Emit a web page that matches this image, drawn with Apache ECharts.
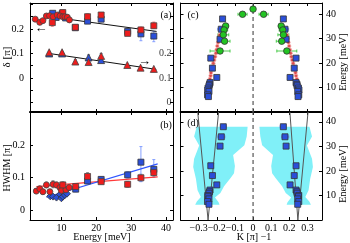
<!DOCTYPE html>
<html><head><meta charset="utf-8">
<script src="https://cdn.jsdelivr.net/npm/echarts@6/dist/echarts.min.js"></script>
<style>html,body{margin:0;padding:0;background:#fff}#c{width:350px;height:243px}</style>
</head><body><div id="c"></div>
<script>
// ---------- Panel (a): delta vs Energy ----------
const aRedCircles = [[2.5,0.240],[3.8,0.227],[4.7,0.234],[5.7,0.253],[6.6,0.254],[7.6,0.250],[8.8,0.257],[9.6,0.253],[10.4,0.250],[11.0,0.250],[11.7,0.248],[12.3,0.237]];
const aRedSquares = [[7.4,0.226],[10.4,0.267],[14.0,0.207],[17.5,0.250],[21.4,0.257],[29.0,0.182],[32.8,0.196],[36.5,0.213]];
const aBlueSquares = [[7.5,0.264],[8.5,0.247],[10.2,0.262],[11.2,0.245],[14.0,0.205],[17.5,0.232],[21.4,0.240],[29.0,0.190],[32.8,0.180],[36.5,0.171]];
const aRedTriangles = [[6.5,0.205],[10.2,0.205],[14.0,0.167],[17.8,0.165],[21.4,0.190],[28.9,0.153],[32.7,0.142],[36.5,0.137]];
const aBlueTriangles = [[6.5,0.200],[10.2,0.200],[17.8,0.184],[21.4,0.173]];
const aFitUpper = [[11.8,0.240],[37.3,0.190]];
const aFitLower = [[6.0,0.201],[37.2,0.135]];
const aErrRed = [[7.4,0.211,0.241],[10.4,0.257,0.277],[14.0,0.199,0.215],[17.5,0.240,0.262],[21.4,0.247,0.267],[29.0,0.174,0.190],[32.8,0.184,0.208],[36.5,0.203,0.228]];
const aErrBlue = [[7.5,0.256,0.272],[14.0,0.197,0.213],[17.5,0.222,0.242],[21.4,0.230,0.250],[29.0,0.180,0.200],[32.8,0.152,0.204],[36.5,0.148,0.190]];
const aErrTri = [[14.0,0.159,0.175],[17.8,0.174,0.194],[21.4,0.178,0.200]];

// ---------- Panel (b): HWHM vs Energy ----------
const bRedCircles = [[2.8,0.058],[3.8,0.065],[4.7,0.056],[5.7,0.077],[6.7,0.056],[7.6,0.079],[8.6,0.077],[9.6,0.069],[10.0,0.060],[11.3,0.062],[12.2,0.069]];
const bRedSquares = [[10.4,0.077],[14.1,0.072],[17.5,0.103],[21.4,0.087],[29.0,0.079],[32.8,0.099],[36.5,0.115]];
const bBlueDiamonds = [[6.8,0.042],[7.6,0.041],[8.6,0.038],[9.6,0.048],[10.0,0.036],[10.4,0.041],[11.0,0.046],[11.6,0.050]];
const bBlueSquares = [[14.1,0.064],[17.5,0.089],[21.4,0.094],[29.0,0.108],[32.8,0.147],[36.5,0.125]];
const bFitRed = [[2.8,0.072],[37.6,0.102]];
const bFitBlue = [[5.7,0.039],[37.6,0.142]];
const bErrRed = [[2.8,0.050,0.066],[3.8,0.057,0.073],[4.7,0.048,0.064],[5.7,0.068,0.086],[6.7,0.048,0.064],[7.6,0.068,0.090],[8.6,0.068,0.086],[9.6,0.060,0.078],[10.4,0.067,0.087],[11.3,0.054,0.070],[12.2,0.060,0.078],[14.1,0.063,0.081],[17.5,0.093,0.115],[21.4,0.080,0.094],[29.0,0.070,0.088],[32.8,0.088,0.110],[36.5,0.104,0.126]];
const bErrBlue = [[14.1,0.056,0.072],[17.5,0.081,0.097],[21.4,0.086,0.102],[29.0,0.098,0.118],[32.8,0.087,0.195],[36.5,0.100,0.155]];

// ---------- Panel (c): dispersion (K-1, Energy) ----------
const cRedLeft = [[-0.243,5.8],[-0.252,7],[-0.255,8],[-0.255,9],[-0.252,10],[-0.248,11],[-0.243,12.2],[-0.238,13.5],[-0.234,14.8],[-0.232,16],[-0.229,17.3],[-0.224,18.6],[-0.219,19.9],[-0.214,21.2],[-0.209,22.6],[-0.205,24],[-0.201,25.4],[-0.197,26.9],[-0.193,28.4],[-0.189,29.9],[-0.185,31.4]];
const cRedRight = [[0.245,5.8],[0.255,7],[0.258,8],[0.257,9],[0.254,10],[0.250,11],[0.246,12.2],[0.241,13.5],[0.237,14.8],[0.234,16],[0.231,17.3],[0.226,18.6],[0.221,19.9],[0.216,21.2],[0.211,22.6],[0.207,24],[0.203,25.4],[0.199,26.9],[0.195,28.4],[0.191,29.9],[0.187,31.4]];
const cBlue = [[-0.168,38],[-0.175,33.8],[-0.182,29.7],[-0.233,22],[-0.224,17.9],[-0.200,14.1],[-0.237,12],[-0.240,11.3],[-0.243,10.7],[-0.248,9.8],[-0.250,9],[-0.243,8.4],[-0.251,7],[-0.246,6.3],
  [0.167,38],[0.176,33.8],[0.182,29.7],[0.237,22],[0.227,17.9],[0.204,14.1],[0.237,12],[0.242,11.3],[0.243,10.7],[0.250,9.8],[0.253,9],[0.246,8.4],[0.252,7],[0.248,6.3]];
const cGreen = [[0,42],[-0.058,39.9],[-0.151,35.1],[-0.160,33.5],[-0.164,31.5],[-0.157,28.9],[-0.182,24.9],[0.058,39.9],[0.155,35.1],[0.164,33.5],[0.167,31.5],[0.158,28.9],[0.186,24.9]];
const cErrGreen = [[42,-0.012,0.012],[39.9,-0.083,-0.033],[35.1,-0.166,-0.136],[33.5,-0.180,-0.140],[31.5,-0.194,-0.134],[28.9,-0.187,-0.127],[24.9,-0.237,-0.127],[39.9,0.033,0.083],[35.1,0.140,0.170],[33.5,0.144,0.184],[31.5,0.137,0.197],[28.9,0.128,0.188],[24.9,0.131,0.241]];
const cErrBlue = [[38,-0.180,-0.156],[33.8,-0.195,-0.155],[38,0.155,0.179],[33.8,0.156,0.196]];
const zeroLine = [[0,0],[0,44.5]];

// ---------- Panel (d) ----------
const dBlue = [[-0.164,38],[-0.175,33.9],[-0.182,30.1],[-0.233,22.1],[-0.224,18.1],[-0.200,14.3],[-0.237,12.2],[-0.240,11.5],[-0.243,10.9],[-0.250,10],[-0.248,9.5],[-0.243,8.6],[-0.251,7.5],[-0.243,6.4],
  [0.167,38],[0.176,33.9],[0.182,30.1],[0.237,22.1],[0.227,18.1],[0.204,14.3],[0.237,12.2],[0.242,11.5],[0.243,10.9],[0.252,10],[0.250,9.5],[0.246,8.6],[0.252,7.5],[0.246,6.4]];
const dErrBlue = [[38,-0.180,-0.148],[33.9,-0.195,-0.155],[38,0.149,0.181],[33.9,0.157,0.197]];
const dPolyLeft = [[-0.311,38],[-0.030,38],[-0.035,34],[-0.048,30.5],[-0.110,26.5],[-0.100,22],[-0.105,19],[-0.125,17],[-0.160,13.7],[-0.180,11],[-0.210,9.2],[-0.190,7.2],[-0.185,6.2],[-0.319,6.2],[-0.310,7.5],[-0.288,9.4],[-0.306,12.1],[-0.315,16.8],[-0.330,21.6],[-0.325,25],[-0.297,30.4],[-0.325,34]];
const dPolyRight = [[0.311,38],[0.035,38],[0.040,34],[0.050,30.5],[0.110,26.5],[0.100,22],[0.105,19],[0.125,17],[0.160,13.7],[0.180,11],[0.210,9.2],[0.190,7.2],[0.185,6.2],[0.319,6.2],[0.310,7.5],[0.288,9.4],[0.306,12.1],[0.315,16.8],[0.330,21.6],[0.325,25],[0.297,30.4],[0.325,34]];
const dLines = [
  [[-0.248,0],[-0.305,44]], [[-0.248,0],[-0.190,44]],
  [[0.247,0],[0.303,44]], [[0.247,0],[0.203,44]]
];

// ---------- ticks ----------
const eTicks = [10,20,30,40];
const kTicks = [-0.3,-0.2,-0.1,0,0.1,0.2,0.3];
const deltaTicks = [-0.1,-0.05,0,0.05,0.1,0.15,0.2,0.25,0.3];
const deltaLabels = [0,0.1,0.2];
const deltaRTicks = [0,0.05,0.1,0.15,0.2,0.25,0.3,0.35,0.4];
const deltaRLabels = [0,0.1,0.2];
const hwhmTicks = [0,0.1,0.2];
const energyTicks = [10,20,30,40];
const X_MAX_LEFT = 42;

const FONT = '"Liberation Serif","DejaVu Serif",serif';
const fmt = v => { const s = String(Math.round(Math.abs(v)*100)/100); return v < -1e-9 ? '\u2212' + s : s; };

function ax(gridIndex, position, min, max, ticks, labels, opt) {
  opt = opt || {};
  const lab = labels ? { show: true, customValues: labels, formatter: fmt, color: '#000', fontFamily: FONT, fontSize: 10,
      margin: opt.margin == null ? 4 : opt.margin } : { show: false };
  return {
    type: 'value', gridIndex, position, min, max,
    axisLine: { show: true, onZero: false, lineStyle: { color: '#000', width: opt.lw || 1 } },
    axisTick: { show: true, inside: true, length: 3, customValues: ticks, lineStyle: { color: '#000' } },
    axisLabel: lab,
    splitLine: { show: false }
  };
}

const xAxis = [
  ax(0,'bottom',1,X_MAX_LEFT,eTicks,null),
  ax(0,'top',1,X_MAX_LEFT,eTicks,null),
  ax(1,'bottom',1,X_MAX_LEFT,eTicks,eTicks,{margin:3}),
  ax(1,'top',1,X_MAX_LEFT,eTicks,null,{lw:2}),
  ax(2,'bottom',-0.4,0.38,kTicks,null),
  ax(2,'top',-0.4,0.38,kTicks,null),
  ax(3,'bottom',-0.4,0.38,kTicks,kTicks,{margin:3}),
  ax(3,'top',-0.4,0.38,kTicks,null,{lw:2})
];
const yAxis = [
  ax(0,'left',-0.139,0.306,deltaTicks,deltaLabels,{margin:6}),
  ax(0,'right',-0.039,0.406,deltaRTicks,null),
  ax(1,'left',-0.031,0.3015,hwhmTicks,hwhmTicks,{margin:5}),
  ax(1,'right',-0.031,0.3015,hwhmTicks,null),
  ax(2,'left',0,44.5,energyTicks,null),
  ax(2,'right',0,44.5,energyTicks,energyTicks,{margin:4}),
  ax(3,'left',0,44,energyTicks,null),
  ax(3,'right',0,44,energyTicks,energyTicks,{margin:4})
];

function vErr(xi, yi, data, color) {
  return { type: 'custom', xAxisIndex: xi, yAxisIndex: yi, data, silent: true, z: 2,
    dimensions: ['x','lo','hi'], encode: { x: 0, y: [1,2] },
    renderItem: (p, api) => {
      const a = api.coord([api.value(0), api.value(1)]), b = api.coord([api.value(0), api.value(2)]);
      const st = { stroke: color, lineWidth: 1 };
      return { type: 'group', children: [
        { type: 'line', shape: { x1: a[0], y1: a[1], x2: b[0], y2: b[1] }, style: st },
        { type: 'line', shape: { x1: a[0]-1.5, y1: a[1], x2: a[0]+1.5, y2: a[1] }, style: st },
        { type: 'line', shape: { x1: b[0]-1.5, y1: b[1], x2: b[0]+1.5, y2: b[1] }, style: st }
      ]};
    } };
}
function hErr(xi, yi, data, color) {
  return { type: 'custom', xAxisIndex: xi, yAxisIndex: yi, data, silent: true, z: 2,
    dimensions: ['y','lo','hi'], encode: { y: 0, x: [1,2] },
    renderItem: (p, api) => {
      const a = api.coord([api.value(1), api.value(0)]), b = api.coord([api.value(2), api.value(0)]);
      const st = { stroke: color, lineWidth: 1 };
      return { type: 'group', children: [
        { type: 'line', shape: { x1: a[0], y1: a[1], x2: b[0], y2: b[1] }, style: st },
        { type: 'line', shape: { x1: a[0], y1: a[1]-1.5, x2: a[0], y2: a[1]+1.5 }, style: st },
        { type: 'line', shape: { x1: b[0], y1: b[1]-1.5, x2: b[0], y2: b[1]+1.5 }, style: st }
      ]};
    } };
}
function poly(xi, yi, pts, color) {
  return { type: 'custom', xAxisIndex: xi, yAxisIndex: yi, data: pts, silent: true, z: 1,
    renderItem: (p, api) => {
      if (p.dataIndex !== 0) return null;
      return { type: 'polygon', shape: { points: pts.map(q => api.coord(q)) }, style: { fill: color } };
    } };
}
function sc(xi, yi, data, symbol, size, color, border, z) {
  return { type: 'scatter', xAxisIndex: xi, yAxisIndex: yi, data, symbol, symbolSize: size, silent: true, z: z || 5,
    itemStyle: { color, borderColor: border || '#333', borderWidth: 0.8, opacity: 1 } };
}
function ln(xi, yi, data, color, w, type, z) {
  return { type: 'line', xAxisIndex: xi, yAxisIndex: yi, data, symbol: 'none', silent: true, z: z || 4,
    lineStyle: { color, width: w || 1, type: type || 'solid' } };
}

const RED = '#ee1c1c', BLUE = '#2b4fd8', GREEN = '#22c422', CYAN = '#80f0f8';
const redDisp = { color: '#d42020', borderColor: 'rgba(245,170,170,0.85)', borderWidth: 1 };

const series = [
  // (a)
  vErr(0,0,aErrRed,'rgba(240,90,90,0.8)'),
  vErr(0,0,aErrBlue,'rgba(110,140,255,0.8)'),
  vErr(0,1,aErrTri,'rgba(110,110,140,0.8)'),
  ln(0,0,aFitUpper,'#111',1),
  ln(0,1,aFitLower,'#111',1),
  sc(0,0,aBlueSquares,'rect',6,BLUE),
  sc(0,0,aRedSquares,'rect',6,RED,'#444',6),
  sc(0,0,aRedCircles,'circle',6,RED,'#444',6),
  sc(0,1,aBlueTriangles,'triangle',7,BLUE),
  sc(0,1,aRedTriangles,'triangle',7,RED,'#444',6),
  // right-hand tick labels of (a), drawn inside the frame on the right axis scale
  { type: 'scatter', xAxisIndex: 0, yAxisIndex: 1, silent: true, z: 20, clip: false,
    data: deltaRLabels.map(v => [X_MAX_LEFT, v]), symbol: 'circle', symbolSize: 1,
    itemStyle: { color: 'rgba(0,0,0,0)' },
    label: { show: true, position: 'left', distance: 1, color: '#000', fontFamily: FONT, fontSize: 10,
      formatter: p => fmt(p.value[1]) } },
  // (b)
  vErr(2,2,bErrRed,'rgba(120,120,120,0.8)'),
  vErr(2,2,bErrBlue,'rgba(120,150,255,0.9)'),
  ln(2,2,bFitRed,'#ff3a3a',1.2),
  ln(2,2,bFitBlue,'#2f55ff',1.2),
  sc(2,2,bBlueDiamonds,'diamond',7,BLUE),
  sc(2,2,bBlueSquares,'rect',6,BLUE),
  sc(2,2,bRedCircles,'circle',6,RED,'#444',6),
  sc(2,2,bRedSquares,'rect',6,RED,'#444',6),
  // (c)
  ln(4,4,zeroLine,'#555',1.2,[4,3],3),
  { type: 'scatter', xAxisIndex: 4, yAxisIndex: 4, data: cRedLeft, symbol: 'circle', symbolSize: 3.5, silent: true, z: 4, itemStyle: redDisp },
  { type: 'scatter', xAxisIndex: 4, yAxisIndex: 4, data: cRedRight, symbol: 'circle', symbolSize: 3.5, silent: true, z: 4, itemStyle: redDisp },
  hErr(4,4,cErrBlue,'rgba(110,140,255,0.9)'),
  sc(4,4,cBlue,'rect',6,BLUE,'#333',5),
  hErr(4,4,cErrGreen,'rgba(60,200,60,0.9)'),
  sc(4,4,cGreen,'circle',6.5,GREEN,'#333',7),
  // (d)
  poly(6,6,dPolyLeft,CYAN),
  poly(6,6,dPolyRight,CYAN),
  ln(6,6,zeroLine,'#555',1.2,[4,3],3),
  ln(6,6,dLines[0],'#555',1),
  ln(6,6,dLines[1],'#555',1),
  ln(6,6,dLines[2],'#555',1),
  ln(6,6,dLines[3],'#555',1),
  hErr(6,6,dErrBlue,'rgba(110,140,255,0.9)'),
  sc(6,6,dBlue,'rect',6,BLUE,'#333',6)
];

function txt(x, y, text, rot, size, align) {
  return { type: 'text', x, y, rotation: rot || 0, silent: true, z: 100,
    style: { text, fill: '#000', font: (size || 10) + 'px ' + FONT, align: align || 'center', verticalAlign: 'middle' } };
}

const chart = echarts.init(document.getElementById('c'), null, { renderer: 'canvas' });
chart.setOption({
  animation: false,
  backgroundColor: '#fff',
  grid: [
    { left: 30, top: 3, width: 143, height: 109 },
    { left: 30, top: 112, width: 143, height: 108 },
    { left: 180.5, top: 3, width: 141.5, height: 109 },
    { left: 180.5, top: 112, width: 141.5, height: 108 }
  ],
  xAxis, yAxis, series,
  graphic: [
    txt(7, 57, '\u03b4 [\u03c0]', Math.PI/2, 11),
    txt(7, 168, 'HWHM [\u03c0]', Math.PI/2),
    txt(102, 237, 'Energy [meV]'),
    txt(254, 237, 'K [\u03c0] \u22121'),
    txt(343, 62, 'Energy [meV]', Math.PI/2),
    txt(343, 174, 'Energy [meV]', Math.PI/2),
    txt(166, 15, '(a)'),
    txt(166, 125, '(b)'),
    txt(193, 15, '(c)'),
    txt(193, 123, '(d)'),
    txt(41, 29, '\u2190', 0, 13),
    txt(144.5, 61.5, '\u2192', 0, 13)
  ]
});
</script></body></html>
